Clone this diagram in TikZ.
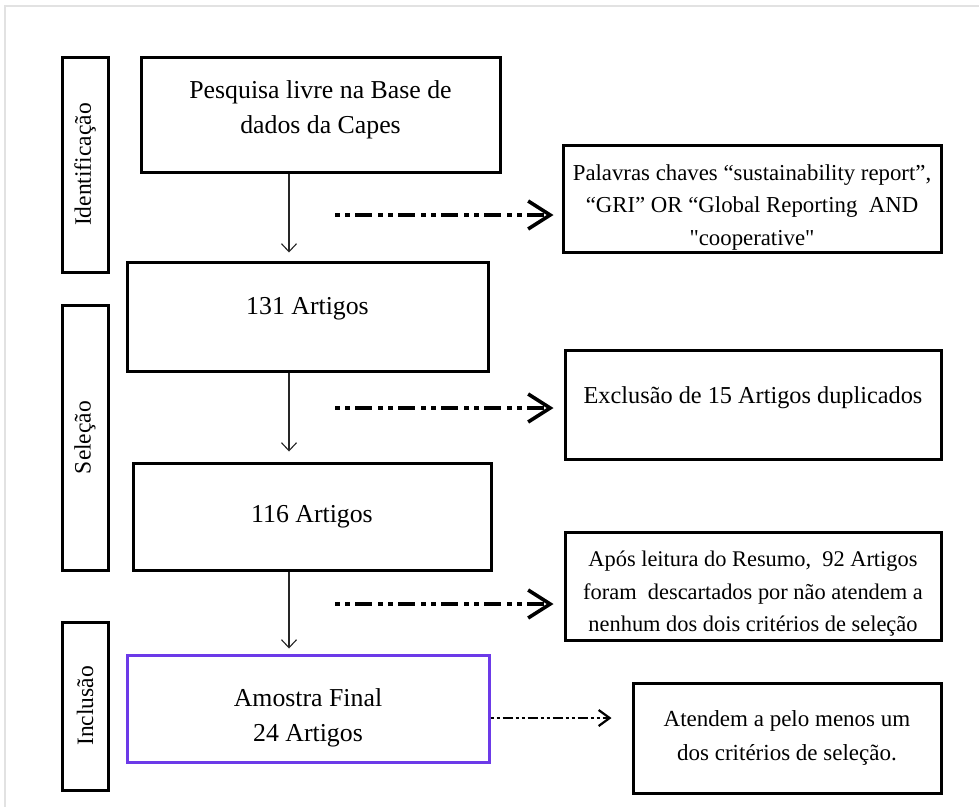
\documentclass[tikz,border=0pt]{standalone}
\usepackage{fontspec}
\setmainfont{Liberation Serif}
\newfontfamily\rawserif{Liberation Serif}
\usetikzlibrary{arrows.meta}
\definecolor{framegray}{RGB}{226,226,226}
\definecolor{boxpurple}{RGB}{108,58,232}
\begin{document}
\begin{tikzpicture}[x=1pt,y=-1pt,
  mainbox/.style={draw=black, line width=3pt, align=center, inner sep=0pt,
    font=\fontsize{25.8}{35}\selectfont},
  notebox/.style={draw=black, line width=3pt, align=center, inner sep=0pt,
    font=\fontsize{#1}{32.5}\selectfont},
  phasebox/.style={draw=black, line width=3pt, rotate=90, inner sep=0pt,
    minimum height=46pt, font=\fontsize{23.5}{28}\selectfont},
  varrow/.style={draw=black!85, line width=1.1pt, -{Straight Barb[length=8pt,width=15pt]}, shorten >=8pt},
  darrow/.style={draw=black, line width=3.6pt,
    dash pattern=on 5pt off 5pt on 5pt off 5pt on 17pt off 6pt,
    -{Straight Barb[length=22pt,width=28pt,line width=3.6pt]}},
  sarrow/.style={draw=black, line width=2.2pt,
    dash pattern=on 3pt off 3pt on 3pt off 3pt on 10pt off 3pt,
    -{Straight Barb[length=11pt,width=16pt,line width=2.2pt]}}
]
\useasboundingbox (0,0) rectangle (979,807);
\fill[white] (0,0) rectangle (979,807);
\draw[framegray, line width=1.5pt] (5,807) -- (5,6) -- (979,6);

% phase labels
\node[phasebox, minimum width=215pt] (p1) at (85,164.5) {Identificação};
\node[phasebox, minimum width=265pt] (p2) at (85,437.5) {Seleção};
\node[phasebox, minimum width=168pt] (p3) at (85,706) {Inclusão};

% main column
\node[mainbox, minimum width=359pt, minimum height=115pt, text depth=14pt] (b1) at (320.5,114.5)
  {Pesquisa livre na Base de\\dados da Capes};
\node[mainbox, minimum width=361pt, minimum height=109pt, text depth=22pt] (b2) at (307.5,316.5) {131 Artigos};
\node[mainbox, minimum width=358pt, minimum height=107pt] (b3) at (312,516.5) {116 Artigos};
\node[mainbox, draw=boxpurple, minimum width=362pt, minimum height=107pt,
  label={[font=\fontsize{25.8}{35}\selectfont, align=center, yshift=-9pt]center:Amostra Final\\24 Artigos}] (b4) at (308,708.5) {};

% right column
\node[notebox=22.8, minimum width=378pt, minimum height=107pt] (r1) at (752,198.5)
  {\rule{0pt}{33pt}Palavras chaves “sustainability report”,\\“GRI” OR “Global Reporting~ AND\\{\rawserif"cooperative"}};
\node[notebox=24.3, minimum width=376pt, minimum height=109pt, text depth=18pt] (r2) at (753,404.5)
  {Exclusão de 15 Artigos duplicados};
\node[notebox=22.4, minimum width=376pt, minimum height=108pt] (r3) at (753,586)
  {\rule{0pt}{31pt}Após leitura do Resumo,~ 92 Artigos\\foram~ descartados por não atendem a\\nenhum dos dois critérios de seleção};
\node[notebox=23, minimum width=308pt, minimum height=110pt, font=\fontsize{23}{34}\selectfont] (r4) at (787,738)
  {Atendem a pelo menos um\\dos critérios de seleção.};

% vertical arrows
\coordinate (vx) at (289,0);
\draw[varrow] (b1.south -| vx) -- (b2.north -| vx);
\draw[varrow, shorten >=10pt] (b2.south -| vx) -- (b3.north -| vx);
\draw[varrow, shorten >=5pt] (b3.south -| vx) -- (b4.north -| vx);

% dashed arrows
\coordinate (d1) at (335,215);
\coordinate (d2) at (335,408);
\coordinate (d3) at (335,604);
\coordinate (d4) at (0,718);
\draw[darrow, shorten >=8pt] (d1) -- (d1 -| r1.west);
\draw[darrow, shorten >=10pt] (d2) -- (d2 -| r2.west);
\draw[darrow, shorten >=10pt] (d3) -- (d3 -| r3.west);
\draw[sarrow, shorten >=20pt] (d4 -| b4.east) -- (d4 -| r4.west);
\end{tikzpicture}
\end{document}
